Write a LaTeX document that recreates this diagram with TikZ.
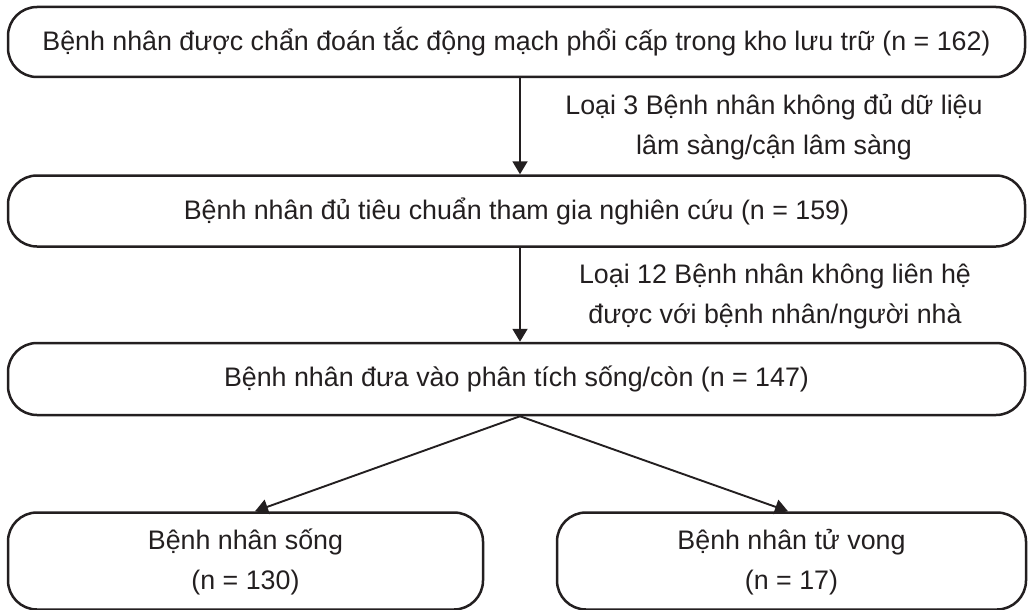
\documentclass[tikz,border=0pt]{standalone}
\usepackage{fontspec}
\setmainfont{Liberation Sans}
\usetikzlibrary{arrows.meta}
\definecolor{ink}{HTML}{231F20}
\begin{document}
\begin{tikzpicture}[x=1pt,y=-1pt,
  font=\fontsize{26.8}{40}\selectfont,
  box/.style={draw=ink,line width=2.5pt,rounded corners=29pt,text=ink,inner sep=0pt},
  note/.style={text=ink,align=center,inner sep=0pt},
  flow/.style={draw=ink,line width=1.9pt,-{Triangle[length=13pt,width=15pt]}}]
\useasboundingbox (0,0) rectangle (1028,610);
% main column of stages
\node[box,minimum width=1017,minimum height=70] (all) at (516.5,42)
  {Bệnh nhân được chẩn đoán tắc động mạch phổi cấp trong kho lưu trữ (n = 162)};
\node[box,minimum width=1017,minimum height=71] (ok) at (516.5,211)
  {Bệnh nhân đủ tiêu chuẩn tham gia nghiên cứu (n = 159)};
\node[box,minimum width=1017,minimum height=72] (an) at (516.5,379)
  {Bệnh nhân đưa vào phân tích sống/còn (n = 147)};
% outcome boxes
\node[box,minimum width=475,minimum height=97,align=center] (alive) at (245.5,561)
  {\raisebox{-4pt}{\begin{tabular}{@{}c@{}}Bệnh nhân sống\\(n = 130)\end{tabular}}};
\node[box,minimum width=469,minimum height=97,align=center] (dead) at (791.5,561)
  {\raisebox{-4pt}{\begin{tabular}{@{}c@{}}Bệnh nhân tử vong\\(n = 17)\end{tabular}}};
% exclusion notes
\node[note] (ex1) at (774,127) {Loại 3 Bệnh nhân không đủ dữ liệu\\lâm sàng/cận lâm sàng};
\node[note] (ex2) at (775,297) {Loại 12 Bệnh nhân không liên hệ\\được với bệnh nhân/người nhà};
% connectors
\coordinate (ax) at (520,0);
\coordinate (lx) at (255,0);
\coordinate (rx) at (788,0);
\draw[flow] (all.south -| ax) -- (ok.north -| ax);
\draw[flow] (ok.south -| ax) -- (an.north -| ax);
\draw[flow] (an.south -| ax) -- (alive.north -| lx);
\draw[flow] (an.south -| ax) -- (dead.north -| rx);
\end{tikzpicture}
\end{document}
